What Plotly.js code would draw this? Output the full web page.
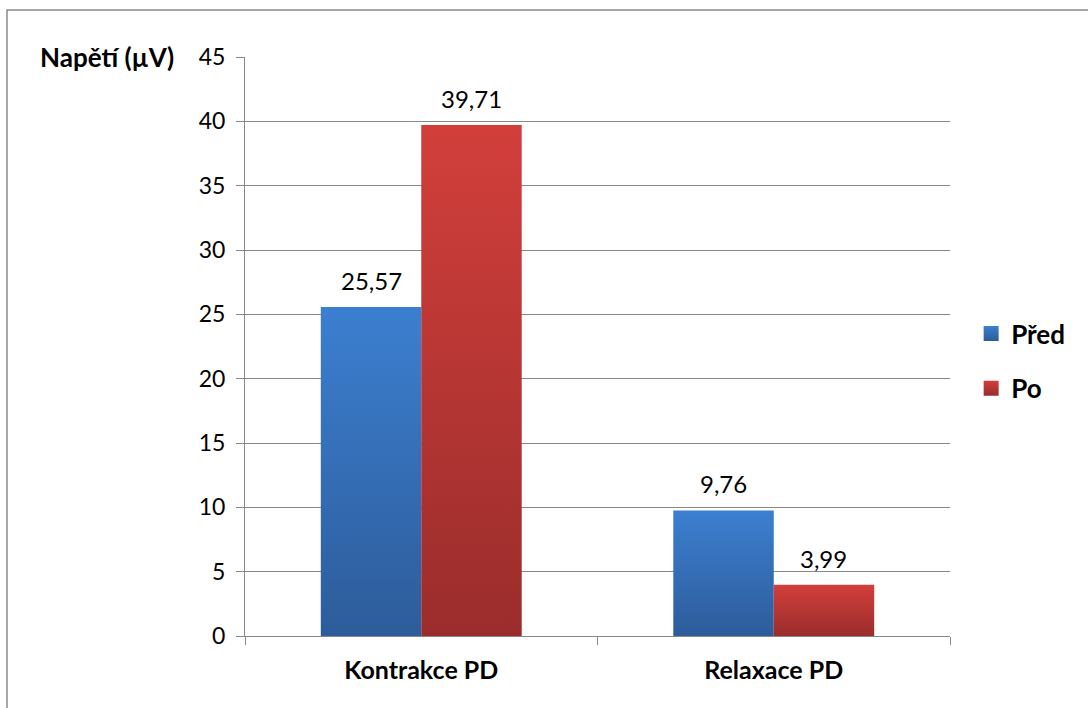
<!DOCTYPE html>
<html>
<head>
<meta charset="utf-8">
<script src="https://cdn.plot.ly/plotly-3.0.1.min.js"></script>
<style>
html,body{margin:0;padding:0;background:#fff;}
#chart{width:1088px;height:708px;}
</style>
</head>
<body>
<div id="chart"></div>
<script>
const categories = ["Kontrakce PD", "Relaxace PD"];
const seriesNames = ["Před", "Po"];
const predValues = [25.57, 9.76];
const poValues = [39.71, 3.99];
const yTicks = [0, 5, 10, 15, 20, 25, 30, 35, 40, 45];
const yTitle = "Napětí (µV)";

const FONT = "Lato, 'Open Sans', 'DejaVu Sans', sans-serif";
const fmt = v => v.toFixed(2).replace('.', ',');

const traces = [
  {type:'bar', name:seriesNames[0], x:categories, y:predValues, legendgroup:'a',
   marker:{color:'#3470b8'}, hoverinfo:'none'},
  {type:'bar', name:seriesNames[1], x:categories, y:poValues, legendgroup:'b',
   marker:{color:'#b83634'}, hoverinfo:'none'}
];

const annotations = [];
[predValues, poValues].forEach((vals, si) => {
  vals.forEach((v, ci) => {
    annotations.push({
      x: categories[ci], y: v, xref:'x', yref:'y',
      text: fmt(v), showarrow:false, yanchor:'bottom',
      xshift: si === 0 ? -50 : 50, yshift: 10,
      font:{family:FONT, size:24, color:'#000'}
    });
  });
});
annotations.push({
  xref:'paper', yref:'paper', x:-0.098, y:1.0, xanchor:'right', yanchor:'middle',
  text:'<b>' + yTitle + '</b>', showarrow:false,
  font:{family:FONT, size:26, color:'#000'}
});

const layout = {
  width:1088, height:708,
  margin:{l:245, r:138, t:57, b:72, autoexpand:false},
  paper_bgcolor:'#fff', plot_bgcolor:'#fff',
  barmode:'group', bargap:0.43, bargroupgap:0,
  showlegend:true,
  legend:{x:1.03, y:0.475, xanchor:'left', yanchor:'middle',
    font:{family:FONT, size:26, color:'#000', weight:'bold'},
    traceorder:'grouped', tracegroupgap:18, itemwidth:30},
  xaxis:{type:'category', showline:true, linecolor:'#888', linewidth:1,
    ticks:'outside', tickson:'boundaries', ticklen:8, tickcolor:'#888',
    showgrid:false, tickfont:{family:FONT, size:25, color:'#000', weight:'bold'},
    ticklabelstandoff:12, fixedrange:true},
  yaxis:{range:[0,45], tickvals:yTicks, ticktext:yTicks.map(String),
    showline:true, linecolor:'#888', linewidth:1,
    ticks:'outside', ticklen:8, tickcolor:'#888',
    showgrid:true, gridcolor:'#888', gridwidth:1, zeroline:false,
    tickfont:{family:FONT, size:23, color:'#000'}, ticklabelstandoff:6,
    fixedrange:true},
  annotations:annotations,
  shapes:[{type:'rect', xref:'paper', yref:'paper', x0:-0.3376, x1:1.21, y0:-0.14, y1:1.0812,
    line:{color:'#8a8a8a', width:1.5}, fillcolor:'rgba(0,0,0,0)', layer:'below'}]
};

Plotly.newPlot('chart', traces, layout, {staticPlot:true}).then(gd => {
  const svg = gd.querySelector('svg.main-svg');
  const ns = 'http://www.w3.org/2000/svg';
  let defs = svg.querySelector('defs');
  if (!defs) { defs = document.createElementNS(ns,'defs'); svg.insertBefore(defs, svg.firstChild); }
  const grads = [['gradBlue','#3c7fd0','#2d5c9a'],['gradRed','#d23f3b','#9a2d2c']];
  grads.forEach(([id,c1,c2]) => {
    const g = document.createElementNS(ns,'linearGradient');
    g.setAttribute('id', id); g.setAttribute('x1','0'); g.setAttribute('y1','0');
    g.setAttribute('x2','0'); g.setAttribute('y2','1');
    [[0,c1],[1,c2]].forEach(([o,c]) => {
      const s = document.createElementNS(ns,'stop');
      s.setAttribute('offset', o); s.setAttribute('stop-color', c); g.appendChild(s);
    });
    defs.appendChild(g);
  });
  gd.querySelectorAll('.barlayer .trace').forEach((tr, i) => {
    tr.querySelectorAll('path').forEach(p => {
      p.style.fill = 'url(#' + grads[i][0] + ')';
    });
  });
  gd.querySelectorAll('.legend .traces').forEach((tr, i) => {
    tr.querySelectorAll('.legendpoints path').forEach(p => {
      p.style.fill = 'url(#' + grads[i][0] + ')';
      const t = p.getAttribute('transform') || '';
      p.setAttribute('transform', t + ' scale(1.25)');
    });
  });
});
</script>
</body>
</html>
